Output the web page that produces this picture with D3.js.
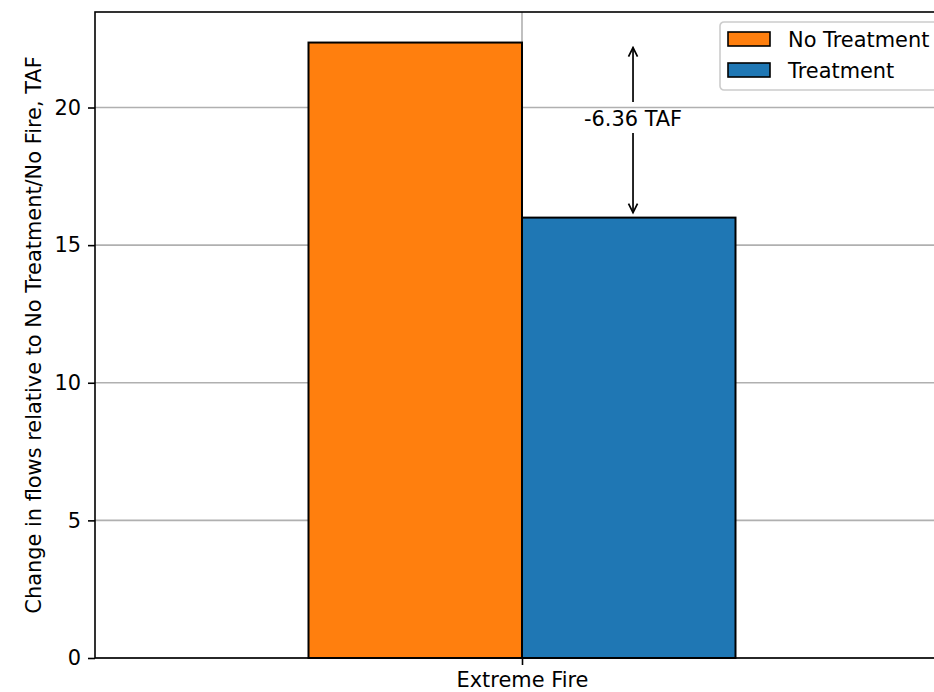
<!DOCTYPE html>
<html>
<head>
<meta charset="utf-8">
<script src="https://cdn.jsdelivr.net/npm/d3@7"></script>
<style>
  html, body { margin: 0; padding: 0; background: #fff; }
  svg { display: block; font-family: "DejaVu Sans", sans-serif; }
</style>
</head>
<body>
<div id="chart"></div>
<script>
// ---- data ----
const categories = ["Extreme Fire"];
const seriesNames = ["No Treatment", "Treatment"];
const seriesColors = ["#ff7f0e", "#1f77b4"];
const noTreatment = [22.36];
const treatment = [16.00];
const yTicks = [0, 5, 10, 15, 20];
const annotationLabel = "-6.36 TAF";
const yLabel = "Change in flows relative to No Treatment/No Fire, TAF";

(function () {
// ---- layout ----
const W = 934, H = 692;
const margin = { left: 95, top: 12, right: -15, bottom: 34 };
const plotW = W - margin.left - margin.right;   // extends beyond the frame (clipped)
const plotH = H - margin.top - margin.bottom;
const fs = 20.9;

const svg = d3.select("#chart").append("svg")
  .attr("width", W).attr("height", H)
  .style("overflow", "hidden");

const g = svg.append("g").attr("transform", `translate(${margin.left},${margin.top})`);

const x = d3.scaleLinear().domain([-0.5, 0.5]).range([0, plotW]);
const y = d3.scaleLinear().domain([0, 23.47]).range([plotH, 0]);
const barW = 0.25;
const catPos = categories.map((c, i) => i);

// grid
g.append("g").selectAll("line").data(yTicks).join("line")
  .attr("x1", 0).attr("x2", plotW)
  .attr("y1", d => y(d)).attr("y2", d => y(d))
  .attr("stroke", "#b0b0b0").attr("stroke-width", 1.6);
g.append("g").selectAll("line").data(catPos).join("line")
  .attr("x1", d => x(d)).attr("x2", d => x(d))
  .attr("y1", 0).attr("y2", plotH)
  .attr("stroke", "#b0b0b0").attr("stroke-width", 1.6);

// bars
const series = [noTreatment, treatment];
series.forEach((vals, si) => {
  g.append("g").selectAll("rect").data(vals).join("rect")
    .attr("x", (d, i) => x(catPos[i] + (si - 1) * barW))
    .attr("width", x(barW) - x(0))
    .attr("y", d => y(d))
    .attr("height", d => y(0) - y(d))
    .attr("fill", seriesColors[si])
    .attr("stroke", "#000").attr("stroke-width", 2);
});

// annotation (difference arrows)
const defs = svg.append("defs");
defs.append("marker").attr("id", "head")
  .attr("viewBox", "-10 -6 12 12").attr("refX", 0).attr("refY", 0)
  .attr("markerWidth", 12).attr("markerHeight", 12)
  .attr("markerUnits", "userSpaceOnUse").attr("orient", "auto")
  .append("path").attr("d", "M-9,-4.5 L0,0 L-9,4.5")
  .attr("fill", "none").attr("stroke", "#000").attr("stroke-width", 1.7);

const ax = x(catPos[0] + barW / 2 + 0.005);
const yHigh = y(noTreatment[0]), yLow = y(treatment[0]);
const mid = (yHigh + yLow) / 2;
g.append("text").attr("x", ax).attr("y", mid - 4)
  .attr("text-anchor", "middle").attr("font-size", fs).attr("fill", "#000")
  .text(annotationLabel);
g.append("line").attr("x1", ax).attr("x2", ax)
  .attr("y1", mid - 28).attr("y2", yHigh + 5)
  .attr("stroke", "#000").attr("stroke-width", 1.7).attr("marker-end", "url(#head)");
g.append("line").attr("x1", ax).attr("x2", ax)
  .attr("y1", mid + 3).attr("y2", yLow - 5)
  .attr("stroke", "#000").attr("stroke-width", 1.7).attr("marker-end", "url(#head)");

// axes
const yAxis = g.append("g").call(d3.axisLeft(y).tickValues(yTicks).tickSize(7).tickPadding(7));
const xAxis = g.append("g").attr("transform", `translate(0,${plotH})`)
  .call(d3.axisBottom(x).tickValues(catPos).tickFormat(i => categories[i]).tickSize(7).tickPadding(7));
[yAxis, xAxis].forEach(a => {
  a.select(".domain").remove();
  a.selectAll("line").attr("stroke", "#000").attr("stroke-width", 1.6);
  a.selectAll("text").attr("font-size", fs).attr("fill", "#000")
    .attr("font-family", "DejaVu Sans, sans-serif");
});
xAxis.selectAll("text").attr("dy", "0.74em");

// spines
g.append("rect").attr("x", 0).attr("y", 0).attr("width", plotW).attr("height", plotH)
  .attr("fill", "none").attr("stroke", "#000").attr("stroke-width", 1.6);

// y label
svg.append("text")
  .attr("transform", `translate(41,${margin.top + plotH / 2}) rotate(-90)`)
  .attr("text-anchor", "middle").attr("font-size", fs).attr("fill", "#000")
  .text(yLabel);

// legend
const lg = svg.append("g").attr("transform", "translate(720,22)");
lg.append("rect").attr("x", 0).attr("y", 0).attr("width", 240).attr("height", 68)
  .attr("rx", 4).attr("fill", "#fff").attr("fill-opacity", 0.8)
  .attr("stroke", "#cccccc").attr("stroke-width", 1.6);
seriesNames.forEach((name, i) => {
  const row = lg.append("g").attr("transform", `translate(0,${10 + i * 31})`);
  row.append("rect").attr("x", 8).attr("y", 0).attr("width", 42).attr("height", 14)
    .attr("fill", seriesColors[i]).attr("stroke", "#000").attr("stroke-width", 1.6);
  row.append("text").attr("x", 68).attr("y", 15).attr("font-size", fs).attr("fill", "#000")
    .text(name);
});
})();
</script>
</body>
</html>
